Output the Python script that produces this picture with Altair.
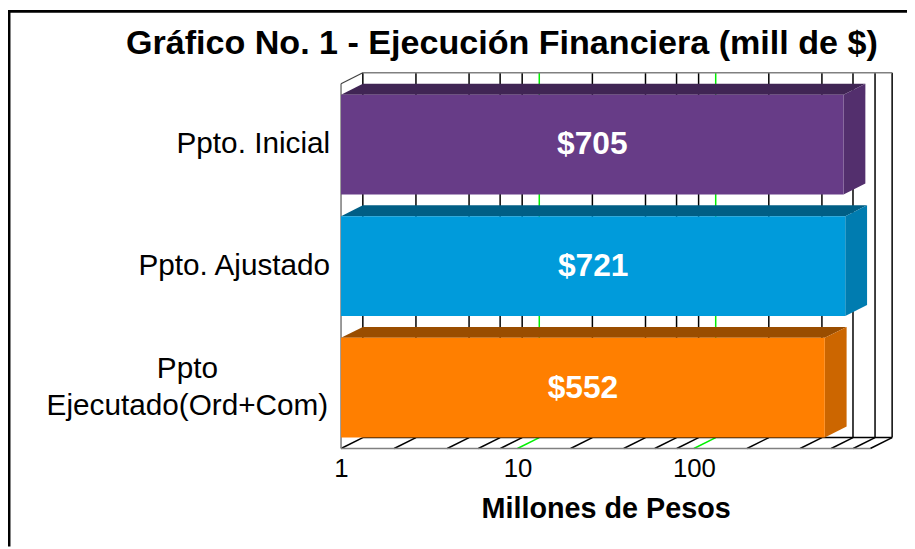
import altair as alt
import pandas as pd

categories = ["Ppto. Inicial", "Ppto. Ajustado", "Ppto\nEjecutado(Ord+Com)"]
values = [705, 721, 552]
value_labels = ["$705", "$721", "$552"]
front_colors = ["#673C87", "#009BDB", "#FF7F00"]
top_colors = ["#402554", "#005E85", "#994D00"]
side_colors = ["#532F6D", "#007CB0", "#CC6600"]
grid_values = [1, 2, 4, 6, 8, 10, 20, 40, 60, 80, 100, 200, 400, 600, 800, 1000]
major_values = [10, 100]
x_ticks = [1, 10, 100]

FONT = "Liberation Sans"
DX = 10 ** (22 / 178)   # depth of the 3-D box, in the log scale
DY = 0.09               # depth of the 3-D box, in category slots
HALF = 0.41             # half a bar, in category slots

x_scale = alt.Scale(type="log", domain=[1, 1000], clamp=False)
y_scale = alt.Scale(domain=[0, 3], clamp=False, nice=False, zero=False, reverse=True)

bars = pd.DataFrame({
    "name": categories,
    "v": values,
    "label": value_labels,
    "front": front_colors,
    "topc": top_colors,
    "sidec": side_colors,
})
bars["i"] = range(len(bars))
bars["y0"] = bars["i"] + 0.5 - HALF
bars["y1"] = bars["i"] + 0.5 + HALF
bars["mid"] = bars["i"] + 0.5
bars["xmid"] = bars["v"] ** 0.5
bars["one"] = 1

top_rows, side_rows = [], []
for _, b in bars.iterrows():
    top_rows.append({"c": b["name"], "col": b["topc"], "y": b["y0"], "x": 1, "x2": b["v"]})
    top_rows.append({"c": b["name"], "col": b["topc"], "y": b["y0"] - DY, "x": DX, "x2": b["v"] * DX})
    side_rows.append({"c": b["name"], "col": b["sidec"], "x": b["v"], "y": b["y0"], "y2": b["y1"]})
    side_rows.append({"c": b["name"], "col": b["sidec"], "x": b["v"] * DX, "y": b["y0"] - DY, "y2": b["y1"] - DY})
top_df = pd.DataFrame(top_rows)
side_df = pd.DataFrame(side_rows)

grid = pd.DataFrame({"v": grid_values})
grid["col"] = ["#00F000" if v in major_values else "#000000" for v in grid_values]
grid["back"] = grid["v"] * DX
grid["ytop"] = -DY
grid["yfloor"] = 3 - DY
grid["yfront"] = 3

wall = alt.Chart(grid).mark_rule(strokeWidth=1.5).encode(
    x=alt.X(
        "back:Q",
        scale=x_scale,
        axis=alt.Axis(
            values=x_ticks, format="d", domain=False, ticks=False, grid=False,
            labelFont=FONT, labelFontSize=26, labelColor="#000000", labelPadding=7,
            labelFlush=False, labelOverlap=False,
            title="Millones de Pesos", titleFont=FONT, titleFontSize=29,
            titleFontWeight="bold", titleColor="#000000", titlePadding=14,
        ),
    ),
    y=alt.Y("ytop:Q", scale=y_scale, axis=None),
    y2="yfloor:Q",
    color=alt.Color("col:N", scale=None),
)
floor = alt.Chart(grid).mark_rule(strokeWidth=1.5).encode(
    x=alt.X("v:Q", scale=x_scale),
    x2="back:Q",
    y=alt.Y("yfront:Q", scale=y_scale, axis=None),
    y2="yfloor:Q",
    color=alt.Color("col:N", scale=None),
)

edges = pd.DataFrame({
    "x": [1, DX, DX, 1],
    "x2": [1000, 1000 * DX, 1000 * DX, 1],
    "y": [3, 3 - DY, -DY, 0],
    "y2": [3, 3 - DY, -DY, 3],
    "col": ["#808080", "#000000", "#808080", "#808080"],
})
edge_lines = alt.Chart(edges).mark_rule(strokeWidth=1.6).encode(
    x=alt.X("x:Q", scale=x_scale),
    x2="x2:Q",
    y=alt.Y("y:Q", scale=y_scale, axis=None),
    y2="y2:Q",
    color=alt.Color("col:N", scale=None),
)
corner = pd.DataFrame({"x": [1], "x2": [DX], "y": [0], "y2": [-DY]})
corner_line = alt.Chart(corner).mark_rule(strokeWidth=1.2, color="#404040").encode(
    x=alt.X("x:Q", scale=x_scale),
    x2="x2:Q",
    y=alt.Y("y:Q", scale=y_scale, axis=None),
    y2="y2:Q",
)

top_faces = alt.Chart(top_df).mark_area(orient="horizontal").encode(
    y=alt.Y("y:Q", scale=y_scale, axis=None),
    x=alt.X("x:Q", scale=x_scale),
    x2="x2:Q",
    color=alt.Color("col:N", scale=None),
    detail="c:N",
)
side_faces = alt.Chart(side_df).mark_area(orient="vertical").encode(
    x=alt.X("x:Q", scale=x_scale),
    y=alt.Y("y:Q", scale=y_scale, axis=None),
    y2="y2:Q",
    color=alt.Color("col:N", scale=None),
    detail="c:N",
)
fronts = alt.Chart(bars).mark_rect().encode(
    x=alt.X("one:Q", scale=x_scale),
    x2="v:Q",
    y=alt.Y("y0:Q", scale=y_scale, axis=None),
    y2="y1:Q",
    color=alt.Color("front:N", scale=None),
)
value_text = alt.Chart(bars).mark_text(
    font=FONT, fontSize=32, fontWeight="bold", color="#FFFFFF"
).encode(
    x=alt.X("xmid:Q", scale=x_scale),
    y=alt.Y("mid:Q", scale=y_scale, axis=None),
    text="label:N",
)
single = alt.Chart(bars[bars["i"] < 2]).mark_text(
    font=FONT, fontSize=30, color="#000000", align="right"
).encode(
    x=alt.value(-11),
    y=alt.Y("mid:Q", scale=y_scale, axis=None),
    text="name:N",
)
double = alt.Chart(bars[bars["i"] == 2]).mark_text(
    font=FONT, fontSize=30, color="#000000", align="center", lineBreak="\n", lineHeight=38, dy=-19
).encode(
    x=alt.value(-155),
    y=alt.Y("mid:Q", scale=y_scale, axis=None),
    text="name:N",
)
frame_left = alt.Chart().mark_rule(color="#000000", strokeWidth=3).encode(
    x=alt.value(-335), y=alt.value(-74), y2=alt.value(467)
)
frame_top = alt.Chart().mark_rule(color="#000000", strokeWidth=3).encode(
    x=alt.value(-336), x2=alt.value(571), y=alt.value(-73)
)

chart = alt.layer(
    wall, floor, edge_lines, corner_line,
    top_faces, side_faces, fronts, value_text, single, double,
    frame_left, frame_top,
).properties(
    width=534,
    height=368,
    padding={"left": 336, "top": 74, "right": 37, "bottom": 99},
    autosize=alt.AutoSizeParams(type="none"),
    background="#FFFFFF",
    title=alt.TitleParams(
        "Gráfico No. 1 - Ejecución Financiera (mill de $)",
        font=FONT, fontSize=34.4, fontWeight="bold", color="#000000",
        anchor="start", frame="group", dx=-217, dy=53, offset=0,
    ),
).configure_view(stroke=None)

chart.save("out.html", embed_options={"renderer": "svg", "actions": False})
